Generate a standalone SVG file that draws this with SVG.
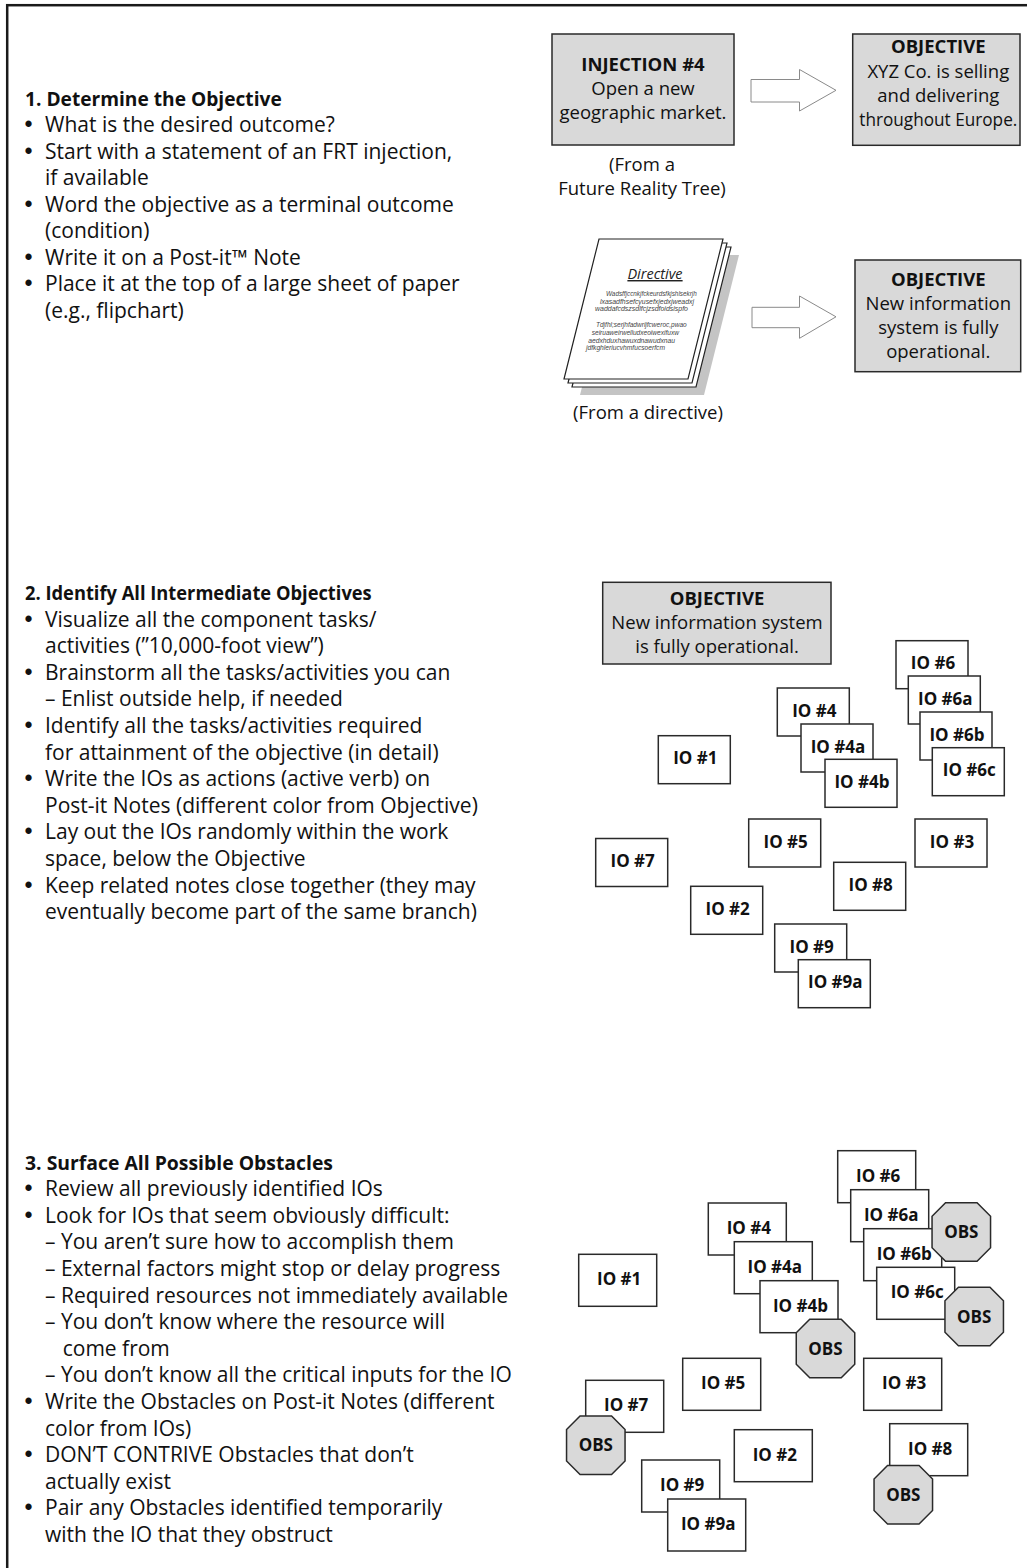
<svg xmlns="http://www.w3.org/2000/svg" width="1027" height="1568" viewBox="0 0 1027 1568">
  <style>
    .t { font-family: "Open Sans", "Noto Sans", sans-serif; font-size: 21px; fill: #111; }
    .h { font-weight: bold; font-size: 20px; }
    .b { font-family: "Liberation Sans", Arial, sans-serif; font-size: 23px; }
    .bx { font-family: "Open Sans", "Noto Sans", sans-serif; font-size: 18.5px; fill: #111; text-anchor: middle; }
    .bh { font-weight: bold; }
    .note { fill: #d9d9d9; stroke: #2a2a2a; stroke-width: 1.5; }
    .io rect { fill: #fff; stroke: #2a2a2a; stroke-width: 1.5; }
    .io text, .obs text { font-family: "Open Sans", "Noto Sans", sans-serif; font-size: 17px; font-weight: bold; fill: #111; text-anchor: middle; }
    .obs use { fill: #d9d9d9; stroke: #2a2a2a; stroke-width: 1.5; }
    .arrow { fill: #fff; stroke: #8a8a8a; stroke-width: 1; }
    .sheet { fill: #fff; stroke: #222; stroke-width: 1.2; }
    .tiny { font-family: "Liberation Sans", Arial, sans-serif; font-size: 6.5px; font-style: italic; fill: #444; }
  </style>
  <defs>
    <polygon id="oct" points="-15.75,-29.25 15.75,-29.25 29.25,-15.75 29.25,15.75 15.75,29.25 -15.75,29.25 -29.25,15.75 -29.25,-15.75"/>
  </defs>

  <rect width="1027" height="1568" fill="#fff"/>
  <!-- page frame -->
  <rect x="7.2" y="5.2" width="1050" height="1600" fill="none" stroke="#1a1a1a" stroke-width="2.5"/>

  <!-- Section 1 text -->
  <g id="step1-text" class="t">
    <text x="25" y="105.5" class="h" textLength="256.7" lengthAdjust="spacingAndGlyphs">1. Determine the Objective</text>
    <text x="24.5" y="132" class="b">•</text><text x="45" y="132">What is the desired outcome?</text>
    <text x="24.5" y="158.5" class="b">•</text><text x="45" y="158.5">Start with a statement of an FRT injection,</text>
    <text x="45" y="185">if available</text>
    <text x="24.5" y="211.5" class="b">•</text><text x="45" y="211.5">Word the objective as a terminal outcome</text>
    <text x="45" y="238">(condition)</text>
    <text x="24.5" y="264.5" class="b">•</text><text x="45" y="264.5">Write it on a Post-it™ Note</text>
    <text x="24.5" y="291" class="b">•</text><text x="45" y="291">Place it at the top of a large sheet of paper</text>
    <text x="45" y="317.5">(e.g., flipchart)</text>
  </g>

  <!-- Section 2 text -->
  <g id="step2-text" class="t">
    <text x="25" y="600" class="h" textLength="346.7" lengthAdjust="spacingAndGlyphs">2. Identify All Intermediate Objectives</text>
    <text x="24.5" y="626.6" class="b">•</text><text x="45" y="626.6">Visualize all the component tasks/</text>
    <text x="45" y="653.2">activities (”10,000-foot view”)</text>
    <text x="24.5" y="679.8" class="b">•</text><text x="45" y="679.8">Brainstorm all the tasks/activities you can</text>
    <text x="45" y="706.4">– Enlist outside help, if needed</text>
    <text x="24.5" y="733" class="b">•</text><text x="45" y="733">Identify all the tasks/activities required</text>
    <text x="45" y="759.6">for attainment of the objective (in detail)</text>
    <text x="24.5" y="786.2" class="b">•</text><text x="45" y="786.2">Write the IOs as actions (active verb) on</text>
    <text x="45" y="812.8">Post-it Notes (different color from Objective)</text>
    <text x="24.5" y="839.4" class="b">•</text><text x="45" y="839.4">Lay out the IOs randomly within the work</text>
    <text x="45" y="866">space, below the Objective</text>
    <text x="24.5" y="892.6" class="b">•</text><text x="45" y="892.6">Keep related notes close together (they may</text>
    <text x="45" y="919.2">eventually become part of the same branch)</text>
  </g>

  <!-- Section 3 text -->
  <g id="step3-text" class="t">
    <text x="25" y="1169.5" class="h" textLength="308" lengthAdjust="spacingAndGlyphs">3. Surface All Possible Obstacles</text>
    <text x="24.5" y="1196.1" class="b">•</text><text x="45" y="1196.1">Review all previously identified IOs</text>
    <text x="24.5" y="1222.7" class="b">•</text><text x="45" y="1222.7">Look for IOs that seem obviously difficult:</text>
    <text x="45" y="1249.3">– You aren’t sure how to accomplish them</text>
    <text x="45" y="1275.9">– External factors might stop or delay progress</text>
    <text x="45" y="1302.5">– Required resources not immediately available</text>
    <text x="45" y="1329.1">– You don’t know where the resource will</text>
    <text x="62.7" y="1355.7">come from</text>
    <text x="45" y="1382.3">– You don’t know all the critical inputs for the IO</text>
    <text x="24.5" y="1408.9" class="b">•</text><text x="45" y="1408.9">Write the Obstacles on Post-it Notes (different</text>
    <text x="45" y="1435.5">color from IOs)</text>
    <text x="24.5" y="1462.1" class="b">•</text><text x="45" y="1462.1">DON’T CONTRIVE Obstacles that don’t</text>
    <text x="45" y="1488.7">actually exist</text>
    <text x="24.5" y="1515.3" class="b">•</text><text x="45" y="1515.3">Pair any Obstacles identified temporarily</text>
    <text x="45" y="1541.9">with the IO that they obstruct</text>
  </g>

  <!-- Step 1 diagram -->
  <g id="injection4">
    <rect class="note" x="552" y="34" width="182" height="111"/>
    <text class="bx bh" x="643" y="70.7">INJECTION #4</text>
    <text class="bx" x="643" y="95">Open a new</text>
    <text class="bx" x="643" y="119.3">geographic market.</text>
  </g>
  <text id="frt-caption" class="bx" x="642" y="170.7">(From a</text>
  <text class="bx" x="642" y="195">Future Reality Tree)</text>

  <g id="objective-europe">
    <rect class="note" x="852.7" y="34" width="167.3" height="111.3"/>
    <text class="bx bh" x="938.3" y="53.3">OBJECTIVE</text>
    <text class="bx" x="938.3" y="77.5">XYZ Co. is selling</text>
    <text class="bx" x="938.3" y="101.7">and delivering</text>
    <text class="bx" x="938.3" y="126" textLength="158" lengthAdjust="spacingAndGlyphs">throughout Europe.</text>
  </g>

  <g id="directive">
    <polygon points="615,255 739,255 704,395 580,395" fill="#c4c4c4"/>
    <polygon class="sheet" points="607,247 731,247 696,387 572,387"/>
    <polygon class="sheet" points="603,243 727,243 692,383 568,383"/>
    <polygon class="sheet" points="599,239 723,239 688,379 564,379"/>
    <text x="655" y="279" text-anchor="middle" font-family="'Open Sans', 'Noto Sans', sans-serif" font-size="14.5" font-style="italic" text-decoration="underline" fill="#222">Directive</text>
    <text class="tiny" x="606" y="296" textLength="90.7" lengthAdjust="spacingAndGlyphs">Wadsffjccnkjfckeurdsfkjshlsekrjh</text>
    <text class="tiny" x="600" y="303.7" textLength="94" lengthAdjust="spacingAndGlyphs">lxasadfhsefcyusefxjedxjweadxj</text>
    <text class="tiny" x="595" y="311" textLength="93" lengthAdjust="spacingAndGlyphs">waddafcdszsdlfcjzsdfoidsispfo</text>
    <text class="tiny" x="596" y="327.3" textLength="90.7" lengthAdjust="spacingAndGlyphs">Tdjfhl;serjhfadwrijfcweroc,pwao</text>
    <text class="tiny" x="591.7" y="335" textLength="87.3" lengthAdjust="spacingAndGlyphs">seiruaweirwelludxeoiwexifuxw</text>
    <text class="tiny" x="588.3" y="342.7" textLength="86.7" lengthAdjust="spacingAndGlyphs">aedxhduxhawuxdnawudxnau</text>
    <text class="tiny" x="586" y="350" textLength="79" lengthAdjust="spacingAndGlyphs">jdfkghleriucvhmfucsoerfcm</text>
  </g>
  <text id="directive-caption" class="bx" x="648" y="419.3">(From a directive)</text>

  <g id="objective-system">
    <rect class="note" x="855" y="260" width="165.7" height="111.7"/>
    <text class="bx bh" x="938.3" y="285.5">OBJECTIVE</text>
    <text class="bx" x="938.3" y="309.8">New information</text>
    <text class="bx" x="938.3" y="334">system is fully</text>
    <text class="bx" x="938.3" y="358.3">operational.</text>
  </g>

  <!-- block arrows -->
  <g id="connectors">
    <path class="arrow" d="M751,79.5 H799.5 V69.5 L836,90.3 L799.5,111 V102 H751 Z"/>
    <path class="arrow" d="M752,307.3 H799.5 V296 L836,316.8 L799.5,338.3 V327.7 H752 Z"/>
  </g>

  <!-- Step 2 diagram -->
  <g id="objective-step2">
    <rect class="note" x="602.7" y="582.3" width="228.3" height="81.7"/>
    <text class="bx bh" x="717" y="605">OBJECTIVE</text>
    <text class="bx" x="717" y="629.3">New information system</text>
    <text class="bx" x="717" y="652.5">is fully operational.</text>
  </g>
  <g id="s2-io6" class="io"><rect x="896" y="640.7" width="72" height="48"/><text x="933" y="669.2">IO #6</text></g>
  <g id="s2-io6a" class="io"><rect x="908.3" y="676" width="72" height="48"/><text x="945.3" y="704.5">IO #6a</text></g>
  <g id="s2-io6b" class="io"><rect x="920" y="712" width="72" height="48"/><text x="957" y="740.5">IO #6b</text></g>
  <g id="s2-io6c" class="io"><rect x="932.3" y="747.7" width="72" height="48"/><text x="969.3" y="776.2">IO #6c</text></g>
  <g id="s2-io4" class="io"><rect x="777.3" y="688" width="72" height="48"/><text x="814.3" y="716.5">IO #4</text></g>
  <g id="s2-io4a" class="io"><rect x="801" y="724" width="72" height="48"/><text x="838" y="752.5">IO #4a</text></g>
  <g id="s2-io4b" class="io"><rect x="825" y="759.3" width="72" height="48"/><text x="862" y="787.8">IO #4b</text></g>
  <g id="s2-io1" class="io"><rect x="658.3" y="735.7" width="72" height="48"/><text x="695.3" y="764.2">IO #1</text></g>
  <g id="s2-io5" class="io"><rect x="748.7" y="819" width="72" height="48"/><text x="785.7" y="847.5">IO #5</text></g>
  <g id="s2-io3" class="io"><rect x="915" y="819" width="72" height="48"/><text x="952" y="847.5">IO #3</text></g>
  <g id="s2-io7" class="io"><rect x="595.7" y="838.5" width="72" height="48"/><text x="632.7" y="867">IO #7</text></g>
  <g id="s2-io8" class="io"><rect x="833.7" y="862.3" width="72" height="48"/><text x="870.7" y="890.8">IO #8</text></g>
  <g id="s2-io2" class="io"><rect x="690.7" y="886.3" width="72" height="48"/><text x="727.7" y="914.8">IO #2</text></g>
  <g id="s2-io9" class="io"><rect x="774.7" y="924" width="72" height="48"/><text x="811.7" y="952.5">IO #9</text></g>
  <g id="s2-io9a" class="io"><rect x="798.3" y="959.7" width="72" height="48"/><text x="835.3" y="988.2">IO #9a</text></g>

  <!-- Step 3 diagram -->
  <g id="s3-io6" class="io"><rect x="837.7" y="1150.7" width="78" height="52"/><text x="878.2" y="1181.7">IO #6</text></g>
  <g id="s3-io6a" class="io"><rect x="850.7" y="1189.7" width="78" height="52"/><text x="891.2" y="1220.7">IO #6a</text></g>
  <g id="s3-io6b" class="io"><rect x="863.7" y="1228.7" width="78" height="52"/><text x="904.2" y="1259.7">IO #6b</text></g>
  <g id="s3-io6c" class="io"><rect x="876.7" y="1267.3" width="78" height="52"/><text x="917.2" y="1298.3">IO #6c</text></g>
  <g id="s3-io4" class="io"><rect x="708.3" y="1203" width="78" height="52"/><text x="748.8" y="1234">IO #4</text></g>
  <g id="s3-io4a" class="io"><rect x="734.3" y="1241.7" width="78" height="52"/><text x="774.8" y="1272.7">IO #4a</text></g>
  <g id="s3-io4b" class="io"><rect x="760" y="1280.7" width="78" height="52"/><text x="800.5" y="1311.7">IO #4b</text></g>
  <g id="s3-io1" class="io"><rect x="578.7" y="1254.3" width="78" height="52"/><text x="619.2" y="1285.3">IO #1</text></g>
  <g id="s3-io5" class="io"><rect x="682.7" y="1358.3" width="78" height="52"/><text x="723.2" y="1389.3">IO #5</text></g>
  <g id="s3-io3" class="io"><rect x="863.7" y="1358.3" width="78" height="52"/><text x="904.2" y="1389.3">IO #3</text></g>
  <g id="s3-io7" class="io"><rect x="585.7" y="1380.3" width="78" height="52"/><text x="626.2" y="1411.3">IO #7</text></g>
  <g id="s3-io2" class="io"><rect x="734.3" y="1429.7" width="78" height="52"/><text x="774.8" y="1460.7">IO #2</text></g>
  <g id="s3-io8" class="io"><rect x="889.7" y="1423.7" width="78" height="52"/><text x="930.2" y="1454.7">IO #8</text></g>
  <g id="s3-io9" class="io"><rect x="641.7" y="1460" width="78" height="52"/><text x="682.2" y="1491">IO #9</text></g>
  <g id="s3-io9a" class="io"><rect x="667.7" y="1499" width="78" height="52"/><text x="708.2" y="1530">IO #9a</text></g>

  <g id="obs-6a" class="obs"><use href="#oct" x="961.3" y="1232"/><text x="961.3" y="1238">OBS</text></g>
  <g id="obs-6c" class="obs"><use href="#oct" x="974.2" y="1316.5"/><text x="974.2" y="1322.5">OBS</text></g>
  <g id="obs-4b" class="obs"><use href="#oct" x="825.5" y="1348.5"/><text x="825.5" y="1354.5">OBS</text></g>
  <g id="obs-7" class="obs"><use href="#oct" x="595.8" y="1445.2"/><text x="595.8" y="1451.2">OBS</text></g>
  <g id="obs-8" class="obs"><use href="#oct" x="903.3" y="1494.8"/><text x="903.3" y="1500.8">OBS</text></g>
</svg>
